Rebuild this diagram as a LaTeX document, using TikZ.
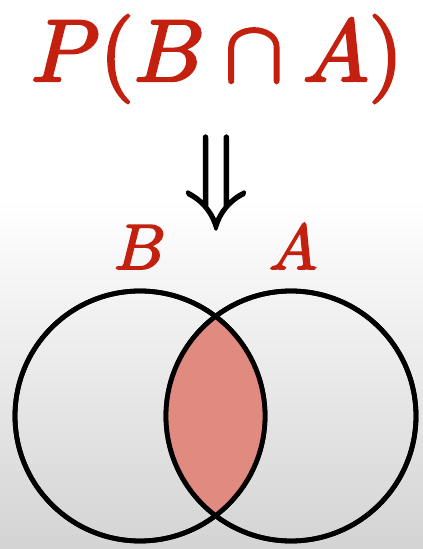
\documentclass[tikz,border=0pt]{standalone}
\usepackage{amsmath}
\definecolor{setred}{RGB}{196,32,16}
\definecolor{capfill}{RGB}{224,138,128}
\newcommand{\heavy}[2][0.28]{\special{pdf:literal direct 2 Tr #1 w}#2\special{pdf:literal direct 0 Tr}}
\tikzset{
  setlabel/.style={setred,inner sep=0pt,anchor=base,scale=6.4},
  setcircle/.style={circle,draw=black,line width=4.8pt,minimum size=250pt,inner sep=0pt}
}
\begin{document}
\begin{tikzpicture}[x=1pt,y=1pt]
% background
\fill[white] (0,0) rectangle (423,549);
\shade[top color=white,bottom color=black!17] (0,0) rectangle (423,350);
\useasboundingbox (0,0) rectangle (423,549);

% P(B cap A)
\node[setred,inner sep=0pt,anchor=base,scale=8.8] (title) at (217,468) {\heavy{$P(B\cap A)$}};
\node[inner sep=0pt,scale=10.7] (arrow) at (216,366.5) {\heavy[0.12]{$\Downarrow$}};

% sets
\node[setcircle] (setB) at (140,133) {};
\node[setcircle] (setA) at (291,133) {};
\begin{scope}
  \clip (setB.center) circle (125);
  \fill[capfill] (setA.center) circle (125);
\end{scope}
\node[setcircle] at (setB.center) {};
\node[setcircle] at (setA.center) {};

\node[setlabel] (labB) at (140,280) {\heavy{$B$}};
\node[setlabel] (labA) at (293,280) {\heavy{$A$}};
\end{tikzpicture}
\end{document}
